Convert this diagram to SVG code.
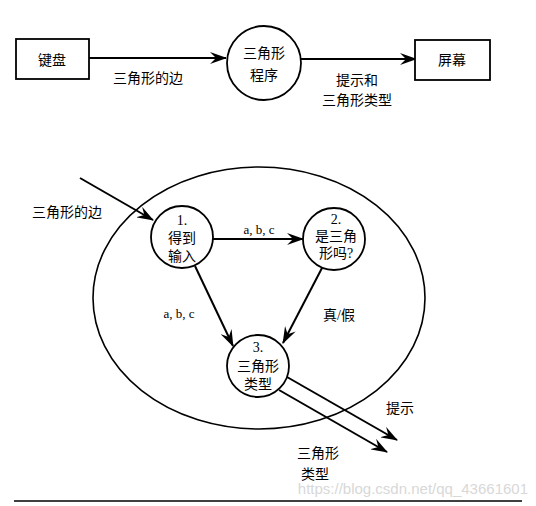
<svg xmlns="http://www.w3.org/2000/svg" width="536" height="506" viewBox="0 0 536 506">
<style>
.s{fill:none;stroke:#000;stroke-width:2}
.n{fill:#fff;stroke:#000;stroke-width:1.8}
.t{font-family:"Liberation Serif","Noto Sans CJK SC",serif;font-size:14px;fill:#000;text-anchor:middle;dominant-baseline:central}
.l{font-family:"Liberation Serif",serif;font-size:13px;fill:#000;text-anchor:middle;dominant-baseline:central}
.w{font-family:"Liberation Sans",sans-serif;font-size:15px;fill:#d8d8d8;text-anchor:end}
</style>
<defs>
<marker id="a" viewBox="0 0 17 12" refX="16" refY="6" markerWidth="17" markerHeight="12" markerUnits="userSpaceOnUse" orient="auto">
<path d="M0,0 L17,6 L0,12 L6,6 z" fill="#000"/>
</marker>
</defs>
<rect width="536" height="506" fill="#fff"/>
<g id="connectors">
<line class="s" x1="89" y1="58" x2="226" y2="58" marker-end="url(#a)"/>
<line class="s" x1="301" y1="59" x2="416" y2="59" marker-end="url(#a)"/>
<line class="s" x1="80" y1="178" x2="153" y2="220" marker-end="url(#a)"/>
<line class="s" x1="213" y1="239" x2="303" y2="239" marker-end="url(#a)"/>
<line class="s" x1="195" y1="266" x2="233" y2="346" marker-end="url(#a)"/>
<line class="s" x1="322" y1="268" x2="283" y2="343" marker-end="url(#a)"/>
<line class="s" x1="287" y1="377" x2="397" y2="440" marker-end="url(#a)"/>
<line class="s" x1="279" y1="390" x2="387" y2="452" marker-end="url(#a)"/>
<text class="t" x="148" y="78">三角形的边</text>
<text class="t" x="357" y="80">提示和</text>
<text class="t" x="357" y="100">三角形类型</text>
<text class="t" x="67" y="212">三角形的边</text>
<text class="l" x="259" y="229">a, b, c</text>
<text class="l" x="179" y="313">a, b, c</text>
<text class="t" x="339" y="315">真/假</text>
<text class="t" x="400" y="408">提示</text>
<text class="t" x="318" y="453">三角形</text>
<text class="t" x="315" y="474">类型</text>
</g>
<g id="keyboard">
<rect class="n" x="16" y="39" width="73" height="40"/>
<text class="t" x="52" y="60">键盘</text>
</g>
<g id="program">
<circle class="n" cx="264" cy="63" r="37"/>
<text class="t" x="264" y="53">三角形</text>
<text class="t" x="264" y="75">程序</text>
</g>
<g id="screen">
<rect class="n" x="415" y="40" width="75" height="40"/>
<text class="t" x="452" y="60">屏幕</text>
</g>
<g id="boundary">
<ellipse cx="259" cy="298" rx="166" ry="131" fill="none" stroke="#000" stroke-width="1.6"/>
</g>
<g id="node1">
<circle class="n" cx="182" cy="237" r="31"/>
<text class="t" x="182" y="220">1.</text>
<text class="t" x="182" y="238">得到</text>
<text class="t" x="182" y="256">输入</text>
</g>
<g id="node2">
<circle class="n" cx="334" cy="239" r="31"/>
<text class="t" x="336" y="219">2.</text>
<text class="t" x="336" y="236">是三角</text>
<text class="t" x="336" y="253">形吗?</text>
</g>
<g id="node3">
<circle class="n" cx="258" cy="366" r="31"/>
<text class="t" x="258" y="347">3.</text>
<text class="t" x="258" y="366">三角形</text>
<text class="t" x="258" y="384">类型</text>
</g>
<line x1="14" y1="501" x2="522" y2="501" stroke="#000" stroke-width="1.5"/>
<text class="w" x="528" y="494">https://blog.csdn.net/qq_43661601</text>
</svg>
